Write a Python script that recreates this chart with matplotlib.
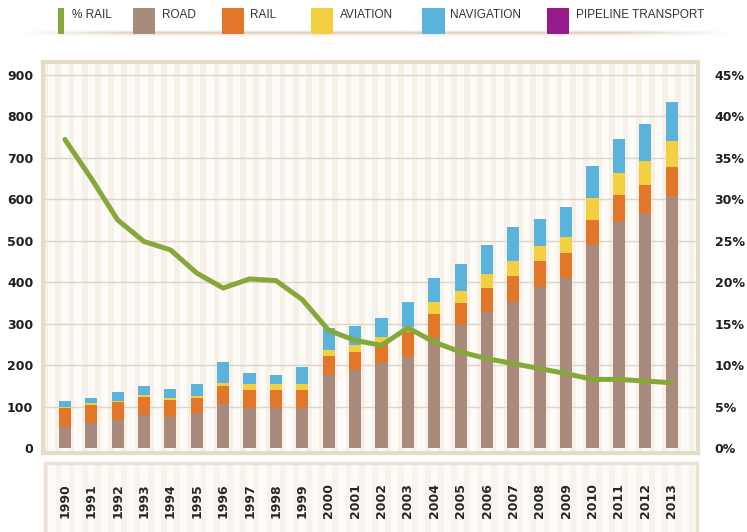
import numpy as np
import matplotlib
matplotlib.use('Agg')
import matplotlib.pyplot as plt
from matplotlib.patches import Rectangle

years = list(range(1990, 2014))
road = [52, 60, 68, 80, 76, 86, 106, 96, 96, 96, 177, 189, 206, 221, 265, 297,
        328, 353, 388, 410, 490, 544, 566, 608]
rail = [44, 44, 44, 43, 40, 34, 43, 44, 44, 44, 45, 44, 47, 58, 59, 54,
        57, 62, 62, 60, 60, 66, 68, 69]
aviation = [4, 4, 3, 5, 4, 6, 8, 14, 14, 16, 15, 16, 16, 12, 29, 29,
            34, 37, 37, 40, 52, 53, 57, 64]
navigation = [14, 12, 21, 23, 22, 29, 52, 28, 23, 39, 53, 46, 44, 62, 57, 64,
              71, 82, 65, 72, 78, 82, 90, 94]
pipeline = [0] * 24
pct_rail = [37.2, 32.5, 27.5, 24.9, 23.9, 21.1, 19.3, 20.4, 20.2, 17.9, 14.2, 13.0,
            12.4, 14.5, 12.8, 11.6, 10.8, 10.2, 9.6, 9.0, 8.3, 8.3, 8.1, 7.9]

legend_names = ['% RAIL', 'ROAD', 'RAIL', 'AVIATION', 'NAVIGATION', 'PIPELINE TRANSPORT']
colors = ['#86a83a', '#a88b7d', '#e2772a', '#f2d03f', '#5ab3da', '#981b8c']

W, H = 747, 532
fig = plt.figure(figsize=(W / 100, H / 100), dpi=100)
fig.patch.set_facecolor('white')


def box(x0, y0, x1, y1):
    # pixel box (top-left origin) -> figure rect
    return [x0 / W, 1 - y1 / H, (x1 - x0) / W, (y1 - y0) / H]


x = np.arange(len(years))
xlim = (-0.83, 24.0)

# main plot
ax = fig.add_axes(box(43, 62, 698, 453))
ax.set_facecolor('#f6f0e7')
for k in np.arange(-1, 24.5, 0.5):
    ax.axvspan(k - 0.14, k + 0.14, color='#fdfbf8', lw=0, zorder=0)
ax.set_xlim(*xlim)
ax.set_ylim(-11.3, 930.5)
ax.set_yticks(range(0, 901, 100))
for v in range(100, 901, 100):
    ax.axhline(v, color='#ddd5c9', lw=1.0, zorder=1)

layers = [road, rail, aviation, navigation, pipeline]
bottom = np.zeros(len(years))
for vals, c in zip(layers, colors[1:]):
    ax.bar(x, vals, 0.46, bottom=bottom, color=c, lw=0, zorder=2)
    bottom += np.array(vals)

ax.set_xticks([])
for s in ax.spines.values():
    s.set_color('#e6dac8')
    s.set_linewidth(3)
ax.tick_params(axis='y', length=0, pad=7, labelsize=9, labelcolor='#1e1e1e')
for t in ax.get_yticklabels():
    t.set_fontweight('bold')

ax2 = ax.twinx()
ax2.set_ylim(-11.3 / 20, 930.5 / 20)
ax2.set_yticks(range(0, 46, 5))
ax2.set_yticklabels([f'{v}%' for v in range(0, 46, 5)])
ax2.tick_params(axis='y', length=0, pad=12, labelsize=9, labelcolor='#1e1e1e')
for t in ax2.get_yticklabels():
    t.set_fontweight('bold')
for s in ax2.spines.values():
    s.set_visible(False)
ax2.plot(x, pct_rail, color=colors[0], lw=3.6, solid_joinstyle='round',
         solid_capstyle='round', zorder=5)

# year label box
axl = fig.add_axes(box(45, 463, 697, 540))
axl.set_facecolor('#f8f3ec')
for k in np.arange(-1, 24.5, 0.5):
    axl.axvspan(k - 0.14, k + 0.14, color='#fdfbf8', lw=0, zorder=0)
axl.set_xlim((45 - 65) / 26.38, (697 - 65) / 26.38)
axl.set_ylim(463, 540)
axl.invert_yaxis()
axl.set_xticks([])
axl.set_yticks([])
for s in axl.spines.values():
    s.set_color('#ebe2d5')
    s.set_linewidth(2.5)
for i, yr in enumerate(years):
    axl.text(i, 500.5, str(yr), rotation=90, ha='center', va='center',
             fontsize=9, fontweight='bold', color='#262626')

# legend strip with soft shadow line
axs = fig.add_axes(box(15, 30, 735, 38))
grad = np.zeros((8, 200, 4))
grad[..., 0], grad[..., 1], grad[..., 2] = 0.86, 0.80, 0.72
prof_x = np.clip(np.minimum(np.linspace(0, 1, 200), np.linspace(1, 0, 200)) * 6, 0, 1)
prof_y = np.array([0.15, 0.5, 0.9, 0.7, 0.4, 0.2, 0.1, 0.05])
grad[..., 3] = prof_y[:, None] * prof_x[None, :]
axs.imshow(grad, aspect='auto')
axs.axis('off')

leg_patch = [(58, 64), (133, 155), (222, 244), (311, 333), (422, 445), (547, 569)]
leg_text = [72, 162, 250, 340, 450, 576]
for (p0, p1), tx, name, c in zip(leg_patch, leg_text, legend_names, colors):
    fig.patches.append(Rectangle((p0 / W, 1 - 34 / H), (p1 - p0) / W, 26 / H,
                                 transform=fig.transFigure, color=c, lw=0))
    fig.text(tx / W, 1 - 15 / H, name, ha='left', va='center', fontsize=8.5,
             family='Liberation Sans', color='#333333')

fig.savefig('out.png', dpi=100)
